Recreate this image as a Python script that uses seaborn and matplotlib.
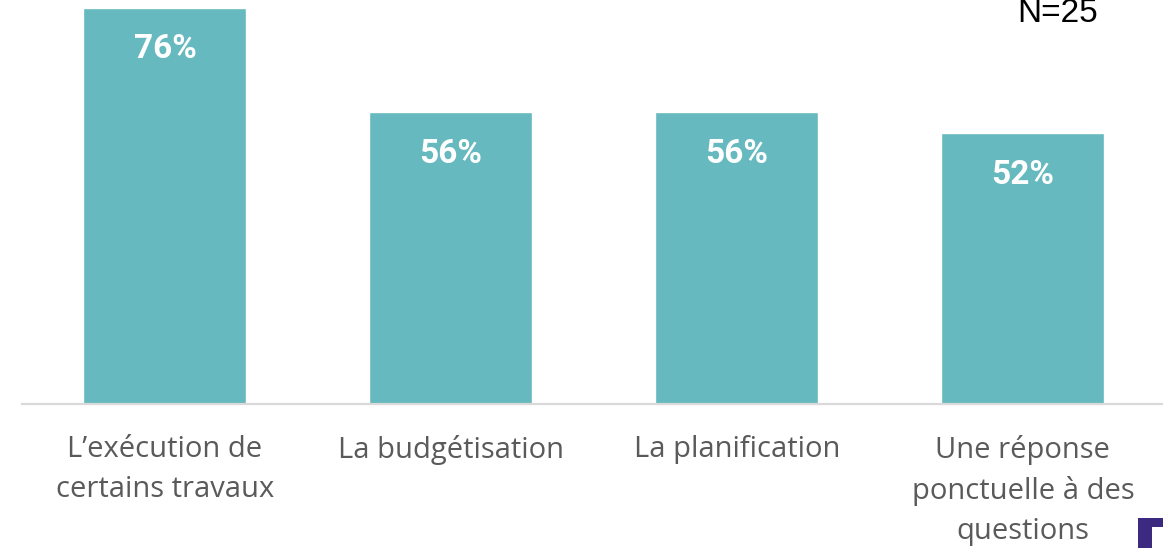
import matplotlib
matplotlib.use("Agg")
import matplotlib.pyplot as plt
import seaborn as sns
import pandas as pd
from matplotlib.patches import Polygon

# data
categories = [
    "L\u2019exécution de\ncertains travaux",
    "La budgétisation",
    "La planification",
    "Une réponse\nponctuelle à des\nquestions",
]
values = [76, 56, 56, 52]
sample_label = "N=25"

bar_color = "#66B9BE"
label_color = "#5A5A5A"

df = pd.DataFrame({"category": categories, "value": values})

sns.set_style("white")
plt.rcParams["font.family"] = ["Open Sans", "DejaVu Sans"]

fig = plt.figure(figsize=(11.63, 5.48), dpi=100)
ax = fig.add_axes([22 / 1163, 144 / 548, 1141 / 1163, 404 / 548])

sns.barplot(data=df, x="category", y="value", color=bar_color,
            width=0.57, saturation=1, ax=ax)

ax.set_xlim(-0.5, 3.49)
ax.set_ylim(0, 77.5)

# value labels inside bars
for i, v in enumerate(values):
    ax.annotate(f"{v}%", xy=(i, v), xytext=(0, -30), textcoords="offset points",
                ha="center", va="center", color="white", fontsize=24,
                fontweight="bold", family=["Roboto", "DejaVu Sans"])

for s in ["top", "right", "left"]:
    ax.spines[s].set_visible(False)
ax.spines["bottom"].set_color("#D9D9D9")
ax.spines["bottom"].set_linewidth(1.6)

ax.set_yticks([])
ax.set_xlabel("")
ax.set_ylabel("")
ax.tick_params(axis="x", length=0, pad=22)
for lbl in ax.get_xticklabels():
    lbl.set_fontsize(21)
    lbl.set_color(label_color)
    lbl.set_linespacing(1.5)
    lbl.set_verticalalignment("top")

fig.text(1098 / 1163, 1 - 22 / 548, sample_label, ha="right", va="baseline",
         fontsize=24, color="black", family=["Liberation Sans", "DejaVu Sans"])

# logo corner fragment
fig.patches.append(Polygon(
    [(1138 / 1163, 0), (1138 / 1163, 1 - 518 / 548), (1, 1 - 518 / 548),
     (1, 1 - 527 / 548), (1152 / 1163, 1 - 527 / 548), (1152 / 1163, 0)],
    closed=True, transform=fig.transFigure, facecolor="#3B2A80", edgecolor="none"))

fig.savefig("out.png", dpi=100)
